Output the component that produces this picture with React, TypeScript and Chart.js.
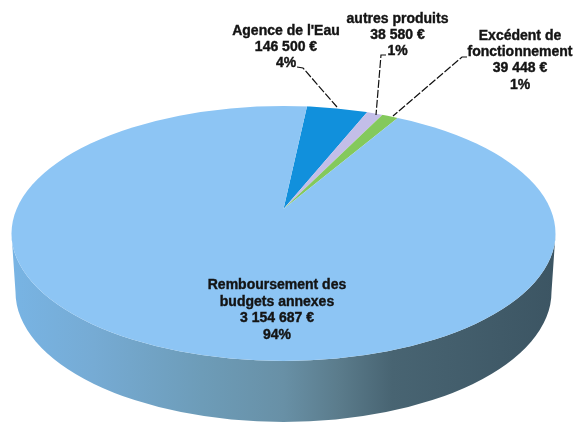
import React, { useEffect, useRef } from "react";
import { Chart, registerables } from "chart.js";

Chart.register(...registerables);

const categories = ["Agence de l'Eau", "autres produits", "Excédent de fonctionnement", "Remboursement des budgets annexes"];
const values = [146500, 38580, 39448, 3154687];
const colors = ["#1190dc", "#c3bee8", "#84c95c", "#8dc5f4"];
const labelLines = [
  ["Agence de l'Eau", "146 500 €", "4%"],
  ["autres produits", "38 580 €", "1%"],
  ["Excédent de", "fonctionnement", "39 448 €", "1%"],
  ["Remboursement des", "budgets annexes", "3 154 687 €", "94%"],
];

const TOP_FACE = { cx: 283.5, cy: 233.5, rx: 272, ry: 127.5 };
const BOTTOM_FACE = { cx: 283.5, cy: 292, rx: 268, ry: 130 };
const APEX = { x: 283.5, y: 209, sx: 2, sy: 2 / 2.18 };
const LABEL_POS = [
  { x: 286, y: 31, lh: 16, size: 14 },
  { x: 397.5, y: 19, lh: 16.3, size: 14 },
  { x: 520, y: 36, lh: 16.3, size: 14 },
  { x: 277, y: 285, lh: 16.8, size: 14 },
];
const LEADERS = [
  [[297, 67], [303, 68], [337, 107]],
  [[386, 55], [381, 55], [376, 115]],
  [[467, 57], [462, 57], [393, 116]],
];
const SIDE_STOPS: [number, string][] = [
  [0, "#78b4e4"],
  [0.15, "#76abd4"],
  [0.35, "#6d9cb8"],
  [0.5, "#6890a6"],
  [0.6, "#5b7c8c"],
  [0.7, "#486472"],
  [1, "#3c5563"],
];

const pie3d = {
  id: "pie3d",
  beforeDatasetsDraw(chart: any) {
    const { ctx } = chart;
    const t = TOP_FACE;
    const b = BOTTOM_FACE;
    const g = ctx.createLinearGradient(t.cx - t.rx, 0, t.cx + t.rx, 0);
    SIDE_STOPS.forEach(([o, c]) => g.addColorStop(o, c));
    ctx.save();
    ctx.fillStyle = g;
    ctx.beginPath();
    ctx.ellipse(t.cx, t.cy, t.rx, t.ry, 0, 0, Math.PI, false);
    ctx.ellipse(b.cx, b.cy, b.rx, b.ry, 0, Math.PI, 0, true);
    ctx.closePath();
    ctx.fill();
    ctx.restore();

    const arc = chart.getDatasetMeta(0).data[0];
    ctx.save();
    ctx.beginPath();
    ctx.ellipse(t.cx, t.cy, t.rx, t.ry, 0, 0, Math.PI * 2);
    ctx.clip();
    ctx.translate(APEX.x, APEX.y);
    ctx.scale(APEX.sx, APEX.sy);
    ctx.translate(-arc.x, -arc.y);
  },
  afterDatasetsDraw(chart: any) {
    const { ctx } = chart;
    ctx.restore();

    ctx.save();
    ctx.strokeStyle = "#111";
    ctx.lineWidth = 1.2;
    ctx.setLineDash([8, 2]);
    LEADERS.forEach((pts) => {
      ctx.beginPath();
      pts.forEach(([x, y], i) => (i ? ctx.lineTo(x, y) : ctx.moveTo(x, y)));
      ctx.stroke();
    });
    ctx.setLineDash([]);
    ctx.fillStyle = "#141414";
    ctx.strokeStyle = "#141414";
    ctx.lineWidth = 0.4;
    ctx.textAlign = "center";
    ctx.textBaseline = "middle";
    labelLines.forEach((lines, i) => {
      const p = LABEL_POS[i];
      ctx.font = `bold ${p.size}px "Liberation Sans", Arial, sans-serif`;
      lines.forEach((s, j) => {
        ctx.fillText(s, p.x, p.y + j * p.lh);
        ctx.strokeText(s, p.x, p.y + j * p.lh);
      });
    });
    ctx.restore();
  },
};

export default function App() {
  const ref = useRef<HTMLCanvasElement>(null);
  useEffect(() => {
    const chart = new Chart(ref.current!, {
      type: "pie",
      data: {
        labels: categories,
        datasets: [{ data: values, backgroundColor: colors, borderWidth: 0, clip: false } as any],
      },
      options: {
        animation: false,
        responsive: false,
        rotation: 6,
        radius: 200,
        plugins: { legend: { display: false }, tooltip: { enabled: false }, title: { display: false } },
      } as any,
      plugins: [pie3d],
    });
    return () => chart.destroy();
  }, []);
  return (
    <div style={{ position: "absolute", left: 0, top: 0, width: 575, height: 424, background: "#fff" }}>
      <canvas ref={ref} width={575} height={424} style={{ display: "block" }} />
    </div>
  );
}
